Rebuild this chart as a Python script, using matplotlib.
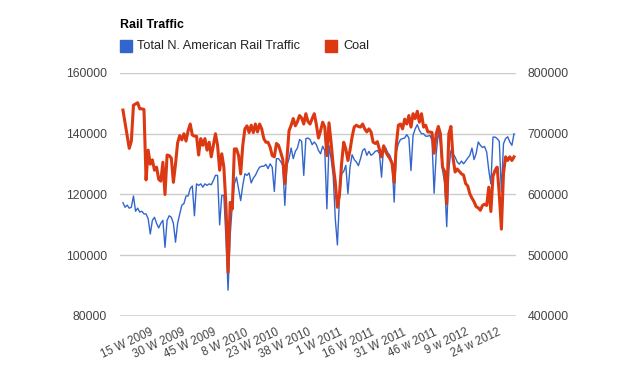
import numpy as np
import matplotlib
matplotlib.use("Agg")
import matplotlib.pyplot as plt
import matplotlib.transforms as mtrans
from matplotlib.patches import Rectangle

plt.rcParams['font.family'] = ['Liberation Sans', 'DejaVu Sans']

# weekly values, in thousands; first point is week 3 of 2009
total_rail = [
    117.3, 115.8, 116.5, 115.5, 115.8, 119.5, 114.5, 115.5, 114.2, 114.5,
    113.6, 113.6, 112.0, 107.0, 111.5, 112.5, 110.5, 109.0, 110.5, 111.5,
    102.6, 111.5, 113.0, 112.5, 110.5, 104.3, 110.5, 113.5, 116.5, 117.0,
    119.5, 119.5, 122.0, 122.8, 113.0, 123.5, 123.0, 123.5, 122.4, 123.5,
    123.0, 123.5, 123.2, 124.6, 126.3, 126.3, 110.0, 119.7, 119.7, 105.4,
    88.5, 106.5, 116.4, 123.5, 125.7, 121.9, 118.0, 123.0, 126.8, 126.3,
    127.1, 123.8, 125.4, 126.3, 127.8, 129.0, 129.3, 129.3, 129.9, 128.5,
    130.1, 129.0, 121.0, 131.8, 131.8, 130.9, 129.6, 116.4, 129.6, 131.8,
    135.3, 131.8, 134.2, 135.3, 138.1, 137.5, 126.3, 138.4, 138.6, 138.1,
    136.4, 137.3, 136.4, 134.5, 133.4, 135.9, 134.5, 115.3, 136.2, 131.8,
    126.3, 112.0, 103.4, 119.0, 126.8, 127.6, 129.6, 120.3, 129.0, 133.1,
    131.5, 130.7, 129.5, 131.8, 134.5, 135.1, 132.9, 134.2, 132.9, 133.4,
    134.2, 134.5, 133.4, 125.7, 136.2, 135.3, 133.7, 132.9, 130.7, 117.5,
    134.0, 136.7, 138.1, 138.4, 138.6, 139.7, 138.6, 127.9, 139.5, 141.6,
    143.0, 141.1, 140.0, 140.0, 139.2, 139.2, 139.5, 137.8, 120.4, 133.4,
    140.5, 137.0, 128.0, 124.0, 109.4, 128.0, 134.5, 133.4, 132.3, 130.7,
    130.0, 131.0, 130.1, 131.0, 132.0, 132.9, 135.3, 131.5, 133.5, 137.3,
    136.2, 135.5, 135.8, 134.0, 128.0, 123.5, 138.9, 138.9, 138.4, 137.5,
    120.8, 136.7, 138.4, 139.0, 137.3, 136.2, 140.0,
]

coal = [
    739, 718, 697, 676, 688, 747, 749, 751, 741, 741,
    740, 624, 673, 650, 657, 640, 645, 625, 622, 653,
    600, 665, 664, 660, 620, 650, 685, 697, 690, 700,
    688, 705, 716, 698, 696, 696, 665, 692, 681, 692,
    673, 686, 662, 681, 700, 681, 640, 667, 645, 582,
    472, 587, 576, 675, 675, 664, 634, 681, 708, 713,
    702, 714, 702, 716, 703, 716, 708, 692, 686, 686,
    678, 664, 662, 684, 681, 670, 658, 618, 659, 705,
    714, 725, 713, 720, 730, 726, 716, 733, 720, 716,
    725, 733, 715, 693, 705, 719, 711, 664, 718, 686,
    648, 620, 579, 600, 651, 686, 675, 656, 673, 695,
    711, 714, 712, 711, 716, 708, 703, 708, 703, 686,
    684, 687, 674, 662, 680, 670, 664, 659, 651, 620,
    681, 714, 716, 708, 724, 716, 730, 711, 733, 725,
    737, 719, 733, 711, 714, 703, 703, 702, 668, 700,
    712, 700, 645, 638, 585, 700, 712, 660, 637, 642,
    638, 634, 632, 618, 614, 601, 594, 588, 580, 578,
    574, 582, 584, 582, 612, 572, 630, 640, 645, 600,
    543, 635, 662, 656, 662, 656, 662,
]

tick_labels = ["15 W 2009", "30 W 2009", "45 W 2009", "8 W 2010", "23 W 2010",
               "38 W 2010", "1 W 2011", "16 W 2011", "31 W 2011", "46 w 2011",
               "9 w 2012", "24 w 2012"]
tick_index = [12 + 15 * k for k in range(len(tick_labels))]

blue = '#3366cc'
red = '#dc3912'
grey_txt = '#444444'

total_rail = np.array(total_rail) * 1000
coal = np.array(coal) * 1000
x = np.arange(len(total_rail))

fig = plt.figure(figsize=(6.24, 3.86), dpi=100)
ax = fig.add_axes([120 / 624, 70 / 386, 396 / 624, 243 / 386])
ax2 = ax.twinx()

ax.plot(x, total_rail, color=blue, lw=1.0, zorder=3)
ax2.plot(x, coal, color=red, lw=2.2, zorder=3)

ax.set_xlim(-1.4, len(x) - 0.05)
ax.set_ylim(80000, 160000)
ax2.set_ylim(400000, 800000)
ax.set_yticks(np.arange(80000, 160001, 20000))
ax2.set_yticks(np.arange(400000, 800001, 100000))

for y in ax.get_yticks()[1:]:
    ax.axhline(y, color='#cccccc', lw=1, zorder=1)
ax.axhline(80000, color='#333333', lw=1, zorder=4)

for a in (ax, ax2):
    for s in a.spines.values():
        s.set_visible(False)
    a.tick_params(length=0, labelsize=8.8, labelcolor=grey_txt)
ax.tick_params(axis='y', pad=9.5)
ax2.tick_params(axis='y', pad=8.5)

ax.set_xticks(tick_index)
ax.set_xticklabels(tick_labels, rotation=25, ha='right', va='center',
                   rotation_mode='anchor', fontsize=8.3)
ax.tick_params(axis='x', pad=11.5)
# google puts the slanted labels a little to the right of the tick
shift = mtrans.ScaledTranslation(4.5 / 100, 0, fig.dpi_scale_trans)
for lab in ax.xaxis.get_majorticklabels():
    lab.set_transform(lab.get_transform() + shift)

# title and legend
fig.text(120 / 624, 1 - 25 / 386, "Rail Traffic", fontsize=8.9, weight='bold',
         color='#000000', va='center')
fig.patches.append(Rectangle((120 / 624, 1 - 52 / 386), 12 / 624, 12 / 386,
                             transform=fig.transFigure, color=blue))
fig.text(137 / 624, 1 - 46 / 386, "Total N. American Rail Traffic", fontsize=9.2,
         color='#222222', va='center')
fig.patches.append(Rectangle((325 / 624, 1 - 52 / 386), 12 / 624, 12 / 386,
                             transform=fig.transFigure, color=red))
fig.text(343 / 624, 1 - 46 / 386, "Coal", fontsize=9.2, color='#222222',
         va='center')

fig.savefig("out.png", dpi=100)
